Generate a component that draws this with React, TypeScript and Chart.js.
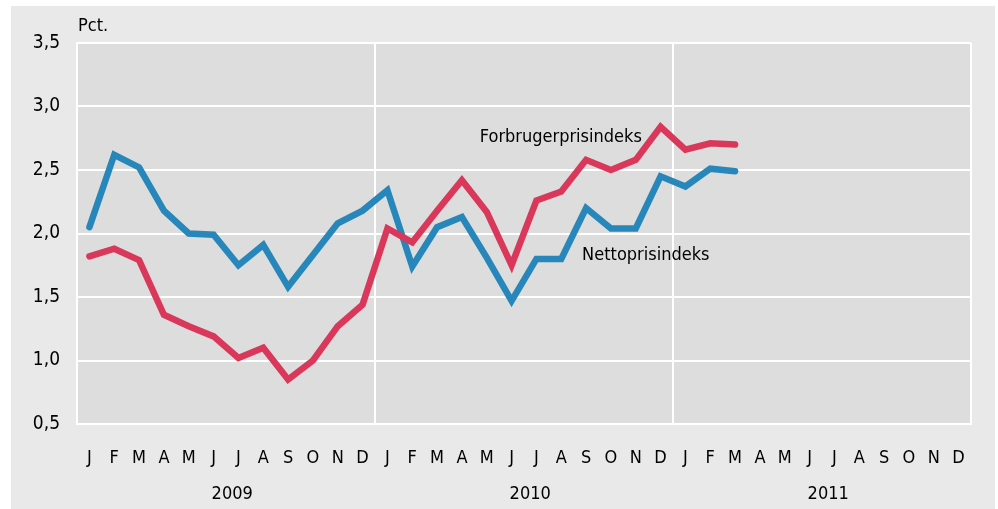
import React, { useEffect, useRef } from "react";
import { Chart, registerables } from "chart.js";

Chart.register(...registerables);

const months = ["J", "F", "M", "A", "M", "J", "J", "A", "S", "O", "N", "D"];
const categories = [...months, ...months, ...months];
const years = ["2009", "2010", "2011"];
const yTicks = [0.5, 1.0, 1.5, 2.0, 2.5, 3.0, 3.5];

const forbrugerprisindeks = [
  1.82, 1.88, 1.79, 1.36, 1.27, 1.19, 1.02, 1.10, 0.85, 1.00, 1.27, 1.44,
  2.04, 1.93, 2.18, 2.42, 2.17, 1.75, 2.26, 2.33, 2.58, 2.50, 2.58, 2.84,
  2.66, 2.71, 2.70, null, null, null, null, null, null, null, null, null,
];
const nettoprisindeks = [
  2.05, 2.62, 2.52, 2.18, 2.00, 1.99, 1.75, 1.91, 1.58, 1.83, 2.08, 2.18,
  2.34, 1.74, 2.05, 2.13, 1.81, 1.47, 1.80, 1.80, 2.20, 2.04, 2.04, 2.45,
  2.37, 2.51, 2.49, null, null, null, null, null, null, null, null, null,
];

const FONT = "'DejaVu Sans Condensed', 'Liberation Sans Narrow', sans-serif";
const RED = "#d9385b";
const BLUE = "#2787bb";
const TEXT = "#000000";

export default function App() {
  const ref = useRef<HTMLCanvasElement | null>(null);

  useEffect(() => {
    const canvas = ref.current;
    if (!canvas) return;

    const bgPlugin = {
      id: "bg",
      beforeDraw(chart: any) {
        const { ctx, chartArea } = chart;
        ctx.save();
        ctx.fillStyle = "#ffffff";
        ctx.fillRect(0, 0, chart.width, chart.height);
        ctx.fillStyle = "#e9e9e9";
        ctx.fillRect(11, 6, 984, 503);
        ctx.fillStyle = "#dddddd";
        ctx.fillRect(chartArea.left, chartArea.top, chartArea.right - chartArea.left, chartArea.bottom - chartArea.top);
        ctx.restore();
      },
    };

    const textPlugin = {
      id: "texts",
      afterDatasetsDraw(chart: any) {
        const { ctx, chartArea } = chart;
        const xs = chart.scales.x;
        const ys = chart.scales.y;
        ctx.save();
        ctx.fillStyle = TEXT;
        ctx.textBaseline = "middle";
        ctx.font = `18px ${FONT}`;
        ctx.textAlign = "left";
        ctx.fillText("Pct.", chartArea.left + 1, ys.getPixelForValue(3.5) - 17);
        ctx.fillText("Forbrugerprisindeks", xs.getPixelForValue(15.72), ys.getPixelForValue(2.76));
        ctx.fillText("Nettoprisindeks", xs.getPixelForValue(19.84), ys.getPixelForValue(1.83));
        ctx.textAlign = "center";
        years.forEach((y, i) => {
          ctx.fillText(y, xs.getPixelForValue(i * 12 + 5.75), 494);
        });
        ctx.restore();
      },
    };

    const chart = new Chart(canvas, {
      type: "line",
      data: {
        labels: categories,
        datasets: [
          {
            label: "Forbrugerprisindeks",
            data: forbrugerprisindeks,
            borderColor: RED,
            backgroundColor: RED,
            borderWidth: 6.5,
            pointRadius: 0,
            tension: 0,
            borderCapStyle: "round",
            borderJoinStyle: "miter",
          },
          {
            label: "Nettoprisindeks",
            data: nettoprisindeks,
            borderColor: BLUE,
            backgroundColor: BLUE,
            borderWidth: 6.5,
            pointRadius: 0,
            tension: 0,
            borderCapStyle: "round",
            borderJoinStyle: "miter",
          },
        ],
      },
      options: {
        responsive: false,
        animation: false,
        layout: { padding: { top: 43, right: 27, left: 0, bottom: 0 } },
        plugins: {
          legend: { display: false },
          tooltip: { enabled: false },
          title: { display: false },
        },
        scales: {
          x: {
            type: "category",
            offset: true,
            grid: {
              offset: true,
              drawTicks: false,
              lineWidth: 2,
              color: (c: any) => {
                if (c.type !== "tick") return "#ffffff";
                return c.index % 12 === 0 ? "#ffffff" : "rgba(0,0,0,0)";
              },
            },
            border: { display: true, color: "#ffffff", width: 2 },
            ticks: {
              color: TEXT,
              font: { family: FONT, size: 18 },
              padding: 24,
              maxRotation: 0,
              autoSkip: false,
            },
            afterFit: (s: any) => {
              s.height = 85;
            },
          },
          y: {
            min: 0.5,
            max: 3.5,
            afterBuildTicks: (s: any) => {
              s.ticks = yTicks.map((v) => ({ value: v }));
            },
            grid: { color: "#ffffff", lineWidth: 2, drawTicks: false },
            border: { display: true, color: "#ffffff", width: 2 },
            ticks: {
              color: TEXT,
              font: { family: FONT, size: 19 },
              padding: 17,
              callback: (v: any) => Number(v).toFixed(1).replace(".", ","),
            },
            afterFit: (s: any) => {
              s.width = 77;
            },
          },
        },
      },
      plugins: [bgPlugin, textPlugin],
    });

    return () => chart.destroy();
  }, []);

  return (
    <div style={{ position: "absolute", left: 0, top: 0, width: 998, height: 509 }}>
      <canvas ref={ref} width={998} height={509} style={{ width: 998, height: 509, display: "block" }} />
    </div>
  );
}
